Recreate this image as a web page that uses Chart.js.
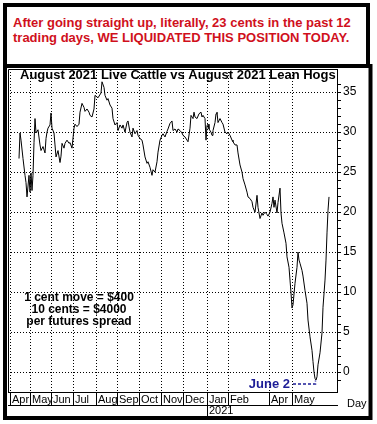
<!DOCTYPE html>
<html>
<head>
<meta charset="utf-8">
<script src="https://cdn.jsdelivr.net/npm/chart.js@4/dist/chart.umd.min.js"></script>
<style>
  html, body { margin: 0; padding: 0; background: #fff; overflow: hidden; }
  #wrap { position: relative; width: 377px; height: 424px; }
  #spread { position: absolute; left: 0; top: 0; }
  #note {
    position: absolute; left: 3px; top: 3px; width: 367px; height: 65px;
    box-sizing: border-box; border: 4px solid #000; background: #fff;
    padding: 8px 0 0 6px;
    font: bold 13px/15px "Liberation Sans", Arial, sans-serif; color: #d0101c;
    white-space: nowrap;
  }
</style>
</head>
<body>
<div id="wrap">
  <canvas id="spread" width="377" height="424"></canvas>
  <div id="note">After going straight up, literally, 23 cents in the past 12<br>trading days, WE LIQUIDATED THIS POSITION TODAY.</div>
</div>
<script>
// trading day index (Apr 2020 = start) and spread in cents
const tradingDays = [
  11, 12, 13, 15, 17, 18, 19, 21, 22, 23, 24, 25, 26, 27, 28, 30, 32, 33, 35, 37,
  38, 39, 40, 42, 43, 44, 46, 47, 48, 50, 52, 53, 54, 56, 57, 59, 61, 62, 64, 66,
  67, 69, 71, 72, 74, 76, 77, 79, 81, 82, 84, 86, 87, 90, 93, 94, 96, 97, 99, 100,
  102, 104, 105, 107, 109, 110, 112, 114, 115, 117, 119, 120, 122, 124, 125, 127, 129, 130, 132, 134,
  135, 137, 139, 140, 142, 144, 145, 147, 149, 150, 152, 154, 155, 157, 159, 160, 162, 164, 165, 167,
  169, 170, 172, 174, 175, 177, 179, 180, 182, 183, 185, 186, 187, 189, 191, 193, 194, 195, 197, 198,
  199, 200, 201, 203, 204, 205, 207, 208, 209, 210, 212, 214, 215, 217, 219, 220, 222, 224, 225, 227,
  229, 230, 232, 234, 235, 237, 239, 240, 242, 244, 245, 247, 249, 250, 252, 254, 255, 257, 259, 260,
  262, 264, 265, 266, 267, 269, 270, 272, 273, 274, 276, 278, 279, 281, 282, 283, 284, 285, 287, 289,
  290, 291, 292, 294, 295, 297, 299, 300, 302, 304, 305, 306, 307, 308, 309, 310, 312, 314, 315, 317,
  318, 319, 320, 321
];
const spread = [
  26.7, 29.9, 29.0, 26.7, 24.6, 23.7, 21.9, 24.6, 22.5, 24.9, 22.7, 24.6, 28.7, 31.7, 29.9, 30.3, 28.4, 27.7, 28.2, 27.4,
  29.2, 30.0, 30.5, 30.9, 32.4, 30.5, 29.9, 28.4, 26.9, 27.7, 26.2, 27.0, 28.6, 28.0, 28.6, 29.0, 28.6, 28.7, 28.0, 30.5,
  31.0, 30.7, 31.0, 32.5, 33.6, 33.1, 32.6, 32.9, 32.5, 32.1, 31.9, 32.9, 34.6, 34.3, 34.9, 36.3, 35.6, 34.6, 34.0, 34.2,
  33.4, 33.0, 31.7, 30.9, 31.2, 30.2, 30.9, 30.5, 30.9, 30.0, 31.2, 31.4, 30.0, 29.4, 30.5, 29.8, 30.2, 29.6, 29.2, 29.0,
  28.4, 26.9, 26.1, 26.3, 25.6, 24.6, 25.3, 25.0, 26.3, 27.5, 29.0, 29.6, 29.8, 29.4, 30.1, 30.4, 31.1, 31.4, 30.2, 30.4,
  30.0, 30.4, 30.2, 29.9, 29.6, 29.4, 29.0, 28.8, 30.5, 32.1, 31.7, 32.5, 31.9, 31.7, 32.3, 32.5, 31.9, 32.1, 31.7, 29.0,
  30.8, 31.0, 30.4, 30.0, 29.6, 30.2, 31.2, 32.3, 32.5, 31.2, 31.7, 31.2, 31.0, 30.0, 29.8, 30.0, 29.6, 29.0, 28.8, 28.4,
  28.4, 27.4, 25.9, 25.0, 24.2, 23.4, 22.5, 21.9, 21.7, 21.3, 20.6, 20.0, 22.1, 20.6, 19.2, 19.9, 19.6, 20.0, 19.7, 19.5,
  20.0, 21.1, 21.9, 20.6, 21.5, 19.9, 21.2, 23.0, 19.9, 18.6, 17.4, 16.1, 14.4, 13.1, 11.5, 9.9, 8.0, 8.4, 11.1, 13.1,
  15.0, 14.0, 13.6, 12.7, 12.0, 10.2, 8.6, 6.5, 4.4, 2.7, 1.3, 0.0, -0.8, -1.0, -0.6, 0.9, 2.4, 4.9, 8.1, 11.5,
  14.0, 17.4, 20.2, 21.9
];
const monthDays = [2, 22, 43, 65, 88, 109, 131, 153, 175, 199, 220, 261, 284];
const monthLabels = ['Apr', 'May', 'Jun', 'Jul', 'Aug', 'Sep', 'Oct', 'Nov', 'Dec', 'Jan', 'Feb', 'Apr', 'May'];
const yearDays = [199];
const yearLabels = ['2021'];
const juneTwoDay = 307;

const chartTitle = 'August 2021 Live Cattle vs August 2021 Lean Hogs';
const noteLines = ['1 cent move = $400', '10 cents = $4000', 'per futures spread'];

const labelFont = { family: '"Liberation Sans Narrow", "Liberation Sans", Arial, sans-serif', size: 11 };

const decorations = {
  id: 'decorations',
  afterDraw (chart) {
    const { ctx, chartArea: a, scales: { x, y } } = chart;
    ctx.save();
    ctx.strokeStyle = '#000';
    ctx.lineWidth = 1;
    ctx.beginPath();
    ctx.moveTo(a.left + 0.5, a.bottom);
    ctx.lineTo(a.left + 0.5, a.top + 0.5);
    ctx.lineTo(a.right, a.top + 0.5);
    ctx.stroke();

    // heavy outer frame
    ctx.lineWidth = 4;
    ctx.strokeRect(5, 66, 365.5, 352);

    ctx.fillStyle = '#000';
    ctx.textBaseline = 'alphabetic';
    ctx.textAlign = 'left';
    ctx.font = 'bold 13px "Liberation Sans", Arial, sans-serif';
    ctx.fillText(chartTitle, a.left + 12, a.top + 10);

    ctx.textAlign = 'center';
    ctx.font = 'bold 12px "Liberation Sans", Arial, sans-serif';
    noteLines.forEach((t, i) => ctx.fillText(t, 79, 301 + i * 12));

    ctx.font = '11px "Liberation Sans", Arial, sans-serif';
    ctx.textAlign = 'left';
    ctx.fillText('Day', 347, 407);

    // June 2 pointer
    const idx = tradingDays.indexOf(juneTwoDay);
    const px = Math.round(x.getPixelForValue(juneTwoDay)) + 0.5;
    const py = y.getPixelForValue(spread[idx]);
    ctx.fillStyle = '#1c1c96';
    ctx.strokeStyle = '#1c1c96';
    ctx.font = 'bold 13px "Liberation Sans", Arial, sans-serif';
    ctx.textAlign = 'right';
    ctx.fillText('June 2', 290, 388);
    ctx.lineWidth = 1.5;
    ctx.setLineDash([3, 2]);
    ctx.beginPath();
    ctx.moveTo(293, 384);
    ctx.lineTo(px, 384);
    ctx.lineTo(px, py + 2);
    ctx.stroke();
    ctx.restore();
  }
};

new Chart(document.getElementById('spread'), {
  type: 'line',
  data: {
    datasets: [
      {
        label: 'Spread',
        data: tradingDays.map((d, i) => ({ x: d, y: spread[i] })),
        borderColor: '#000',
        borderWidth: 1,
        pointRadius: 0,
        tension: 0,
        fill: false
      }
    ]
  },
  options: {
    responsive: false,
    animation: false,
    layout: { padding: { left: 8, top: 69, right: 7, bottom: 6 } },
    plugins: { legend: { display: false }, tooltip: { enabled: false } },
    scales: {
      x: {
        type: 'linear',
        position: 'bottom',
        weight: 0,
        min: 0,
        max: 329,
        afterBuildTicks: s => { s.ticks = monthDays.map(v => ({ value: v })) },
        afterFit: s => { s.height = 13 },
        ticks: {
          autoSkip: false,
          maxRotation: 0,
          align: 'start',
          labelOffset: 2,
          padding: -12,
          color: '#000',
          font: labelFont,
          callback: (v, i) => monthLabels[i]
        },
        grid: { color: '#000', lineWidth: 1, borderDash: [1, 2], tickLength: 13, tickColor: '#000', tickBorderDash: [] },
        border: { display: true, color: '#000', width: 1, dash: [1, 2] }
      },
      x2: {
        type: 'linear',
        position: 'bottom',
        weight: 1,
        min: 0,
        max: 329,
        afterBuildTicks: s => { s.ticks = yearDays.map(v => ({ value: v })) },
        afterFit: s => { s.height = 13 },
        ticks: {
          autoSkip: false,
          maxRotation: 0,
          align: 'start',
          labelOffset: 2,
          padding: -14,
          color: '#000',
          font: labelFont,
          callback: (v, i) => yearLabels[i]
        },
        grid: { drawOnChartArea: false, tickLength: 13, tickColor: '#000', tickBorderDash: [] },
        border: { display: true, color: '#000', width: 1 }
      },
      y: {
        type: 'linear',
        position: 'right',
        min: -2.5,
        max: 37.9,
        afterBuildTicks: s => { s.ticks = s.ticks.filter(t => Number.isInteger(t.value)) },
        afterFit: s => { s.width = 33 },
        ticks: {
          stepSize: 1,
          autoSkip: false,
          padding: 2,
          color: '#000',
          font: { family: '"Liberation Sans", Arial, sans-serif', size: 12 },
          callback: v => (v % 5 === 0 ? String(v) : '')
        },
        grid: {
          color: c => (c.tick && c.tick.value % 5 === 0 ? '#000' : 'rgba(0,0,0,0)'),
          lineWidth: 1,
          borderDash: [1, 2],
          tickLength: 4,
          tickColor: '#000',
          tickBorderDash: []
        },
        border: { display: true, color: '#000', width: 1, dash: [1, 2] }
      }
    }
  },
  plugins: [decorations]
});
</script>
</body>
</html>
